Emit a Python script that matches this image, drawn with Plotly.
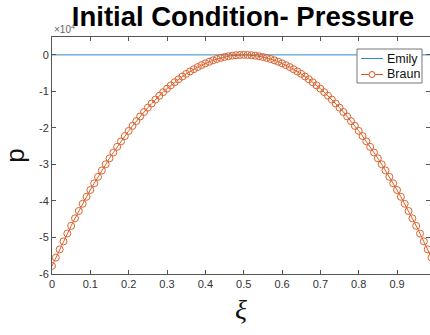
import plotly.graph_objects as go

# Spatial coordinate xi sampled at 0.01 steps
xi = [round(i * 0.01, 2) for i in range(101)]

# Initial pressure profiles, in units of 1e4
emily_p = [0.0] * 101
braun_p = [
    -5.780, -5.551, -5.327, -5.107, -4.892, -4.682, -4.476, -4.275, -4.078, -3.886,
    -3.699, -3.517, -3.339, -3.165, -2.996, -2.832, -2.673, -2.518, -2.368, -2.222,
    -2.081, -1.944, -1.813, -1.685, -1.563, -1.445, -1.332, -1.223, -1.119, -1.020,
    -0.925, -0.835, -0.749, -0.668, -0.592, -0.520, -0.453, -0.391, -0.333, -0.280,
    -0.231, -0.187, -0.148, -0.113, -0.083, -0.058, -0.037, -0.021, -0.009, -0.002,
    0.000,
    -0.002, -0.009, -0.021, -0.037, -0.058, -0.083, -0.113, -0.148, -0.187, -0.231,
    -0.280, -0.333, -0.391, -0.453, -0.520, -0.592, -0.668, -0.749, -0.835, -0.925,
    -1.020, -1.119, -1.223, -1.332, -1.445, -1.563, -1.685, -1.813, -1.944, -2.081,
    -2.222, -2.368, -2.518, -2.673, -2.832, -2.996, -3.165, -3.339, -3.517, -3.699,
    -3.886, -4.078, -4.275, -4.476, -4.682, -4.892, -5.107, -5.327, -5.551, -5.780,
]
scale = 1e4

series_names = ["Emily", "Braun"]
series_colors = ["#2f8cc8", "#D95319"]

x_ticks = [0, 0.1, 0.2, 0.3, 0.4, 0.5, 0.6, 0.7, 0.8, 0.9]
x_tick_text = ["0", "0.1", "0.2", "0.3", "0.4", "0.5", "0.6", "0.7", "0.8", "0.9"]
y_ticks = [-6, -5, -4, -3, -2, -1, 0]
y_tick_text = ["-6", "-5", "-4", "-3", "-2", "-1", "0"]

axis_color = "#555555"
text_color = "#333333"

W, H = 430, 335
M_L, M_R, M_T, M_B = 52, 0, 37, 61
PW, PH = W - M_L - M_R, H - M_T - M_B


def px_x(px):
    """Horizontal pixel -> paper coordinate."""
    return (px - M_L) / PW


def px_y(py):
    """Vertical pixel (from top) -> paper coordinate."""
    return (H - M_B - py) / PH


fig = go.Figure()
fig.add_trace(go.Scatter(
    x=xi, y=[v * scale for v in emily_p], name=series_names[0], mode="lines",
    line=dict(color=series_colors[0], width=1), showlegend=False,
))
fig.add_trace(go.Scatter(
    x=xi, y=[v * scale for v in braun_p], name=series_names[1], mode="lines+markers",
    line=dict(color=series_colors[1], width=1),
    marker=dict(symbol="circle-open", size=7, color=series_colors[1], line=dict(width=1)),
    opacity=0.9, showlegend=False,
))

# Boxed legend drawn in the upper-right corner of the axes
shapes = [dict(
    type="rect", xref="paper", yref="paper", layer="above",
    x0=px_x(357), x1=px_x(422), y0=px_y(83), y1=px_y(49),
    line=dict(color="#777777", width=1), fillcolor="white",
)]
annotations = []
rows_py = [58.5, 74.5]
for name, color, py in zip(series_names, series_colors, rows_py):
    shapes.append(dict(
        type="line", xref="paper", yref="paper", layer="above",
        x0=px_x(361), x1=px_x(383), y0=px_y(py), y1=px_y(py),
        line=dict(color=color, width=1),
    ))
    annotations.append(dict(
        text=name, xref="paper", yref="paper", x=px_x(385), y=px_y(py),
        xanchor="left", yanchor="middle", showarrow=False,
        font=dict(size=12.5, color="#111111"),
    ))
# circle marker sample for the Braun entry
shapes.append(dict(
    type="circle", xref="paper", yref="paper", layer="above",
    x0=px_x(369), x1=px_x(375), y0=px_y(rows_py[1] + 3), y1=px_y(rows_py[1] - 3),
    line=dict(color=series_colors[1], width=1), fillcolor="white",
))

# Exponent label for the y axis
annotations.append(dict(
    text="×10<sup>4</sup>", xref="paper", yref="paper", x=0.0, y=1.0,
    xanchor="left", yanchor="bottom", showarrow=False,
    font=dict(size=10, color="#666666"),
))

fig.update_layout(
    width=W, height=H,
    margin=dict(l=M_L, r=M_R, t=M_T, b=M_B),
    paper_bgcolor="white", plot_bgcolor="white",
    font=dict(family="Arial, Liberation Sans, sans-serif", color=text_color, size=11),
    title=dict(
        text="<b>Initial Condition- Pressure</b>",
        font=dict(family="Arial, Liberation Sans, sans-serif", size=27.5, color="#000000"),
        x=0.565, xanchor="center", y=0.98, yanchor="top",
    ),
    showlegend=False,
    shapes=shapes,
    annotations=annotations,
    xaxis=dict(
        range=[0, 0.986], tickvals=x_ticks, ticktext=x_tick_text,
        ticks="inside", ticklen=4, tickcolor=axis_color,
        showline=True, linecolor=axis_color, linewidth=1, mirror="ticks",
        showgrid=False, zeroline=False,
        tickfont=dict(size=11, color=text_color),
        title=dict(text="<i>ξ</i>", font=dict(family="Liberation Serif, Times New Roman, serif",
                                              size=28, color="#111111"), standoff=10),
    ),
    yaxis=dict(
        range=[-6 * scale, 0.49 * scale],
        tickvals=[v * scale for v in y_ticks], ticktext=y_tick_text,
        ticks="inside", ticklen=4, tickcolor=axis_color,
        showline=True, linecolor=axis_color, linewidth=1, mirror="ticks",
        showgrid=False, zeroline=False,
        tickfont=dict(size=11, color=text_color),
        title=dict(text="p", font=dict(family="Arial, Liberation Sans, sans-serif",
                                       size=26, color="#111111"), standoff=14),
    ),
)

fig.write_html("out.html")
